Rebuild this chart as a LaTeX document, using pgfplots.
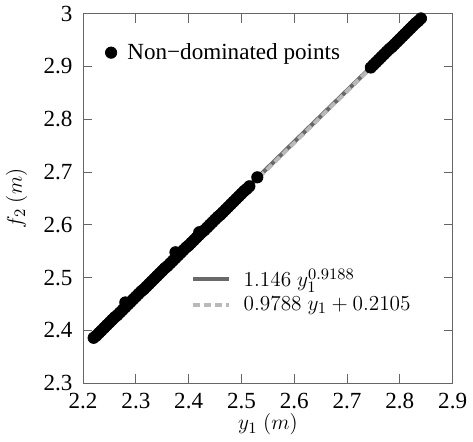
\documentclass[border=0pt]{standalone}
\usepackage{fontspec}
\setmainfont{Liberation Serif}
\usepackage{pgfplots}
\pgfplotsset{compat=1.18}
\definecolor{fitdark}{RGB}{105,105,105}
\definecolor{fitlight}{RGB}{185,185,185}
\newcommand{\bigf}{\fontsize{13}{15}\selectfont}
\begin{document}
\begin{tikzpicture}
\pgfplotsset{
  common/.style={
    width=208pt, height=208pt, scale only axis,
    xmin=2.2, xmax=2.9, ymin=2.3, ymax=3,
    /pgf/number format/assume math mode=true,
    tick label style={font=\bigf},
    yticklabel style={xshift=-2.5pt},
    xticklabel style={yshift=-2pt},
    tick align=inside, major tick length=5pt,
    xtick={2.2,2.3,...,2.9}, ytick={2.3,2.4,...,3.0},
    xticklabels={2.2,2.3,2.4,2.5,2.6,2.7,2.8,2.9},
    yticklabels={2.3,2.4,2.5,2.6,2.7,2.8,2.9,3},
    axis line style={gray!80!black, line width=0.6pt},
    tick style={gray!80!black, line width=0.6pt},
  }
}
\begin{axis}[common,
  xlabel={$y_1\ (m)$}, ylabel={$f_2\ (m)$},
  every axis x label/.style={at={(axis description cs:0.5,-0.112)}, anchor=center, font=\bigf},
  every axis y label/.style={at={(axis description cs:-0.18,0.5)}, anchor=center, rotate=90, font=\bigf},
  legend style={draw=none, fill=none, at={(0.29,0.32)}, anchor=north west, row sep=0pt,
    font=\bigf, inner sep=0pt,
    /tikz/every odd column/.append style={column sep=5pt}},
  legend cell align=left,
  legend image code/.code={\draw[#1] (0cm,0cm) -- (0.72cm,0cm);},
]
\addplot[fitdark, line width=2.4pt] coordinates {
(2.22,2.3846) (2.3,2.4635) (2.4,2.5617) (2.5,2.6596) (2.6,2.7572) (2.7,2.8545) (2.8,2.9514) (2.84,2.9900)};
\addlegendentry{$1.146\;y_1^{0.9188}$}
\addplot[fitlight, line width=2.2pt, dash pattern=on 4pt off 2.2pt] coordinates {
(2.22,2.3834) (2.84,2.9903)};
\addlegendentry{$0.9788\;y_1+0.2105$}
\end{axis}
\begin{axis}[common, axis lines=none, xtick=\empty, ytick=\empty,
  legend style={draw=none, fill=none, at={(0.045,0.94)}, anchor=north west, font=\bigf,
    /tikz/every odd column/.append style={column sep=4pt}},
]
\addplot[only marks, mark=*, mark size=3.2pt, black] coordinates {
(2.220,2.386) (2.225,2.390) (2.230,2.395) (2.235,2.400) (2.240,2.405) (2.245,2.410)
(2.250,2.415) (2.255,2.420) (2.260,2.425) (2.265,2.429) (2.270,2.434) (2.275,2.439)
(2.280,2.444) (2.280,2.453) (2.285,2.449) (2.290,2.454) (2.295,2.459) (2.300,2.464)
(2.305,2.469) (2.310,2.474) (2.315,2.478) (2.320,2.483) (2.325,2.488) (2.330,2.493)
(2.335,2.498) (2.340,2.503) (2.345,2.508) (2.350,2.513) (2.355,2.518) (2.360,2.522)
(2.365,2.527) (2.370,2.532) (2.375,2.537) (2.375,2.548) (2.380,2.542) (2.385,2.547)
(2.390,2.552) (2.395,2.557) (2.400,2.561) (2.405,2.566) (2.410,2.571) (2.415,2.576)
(2.420,2.581) (2.420,2.586) (2.425,2.586) (2.430,2.590) (2.435,2.595) (2.440,2.600)
(2.445,2.605) (2.450,2.610) (2.455,2.615) (2.460,2.619) (2.465,2.624) (2.470,2.629)
(2.475,2.634) (2.480,2.639) (2.485,2.644) (2.490,2.649) (2.495,2.654) (2.500,2.659)
(2.505,2.664) (2.510,2.668) (2.515,2.673) (2.530,2.690)
(2.745,2.898) (2.750,2.903) (2.755,2.908) (2.760,2.913) (2.765,2.918) (2.770,2.923)
(2.775,2.928) (2.780,2.933) (2.785,2.937) (2.790,2.942) (2.795,2.947) (2.800,2.952)
(2.805,2.957) (2.810,2.962) (2.815,2.967) (2.820,2.972) (2.825,2.977) (2.830,2.982)
(2.835,2.986) (2.840,2.991)};
\addlegendentry{Non\textminus dominated points}
\end{axis}
\end{tikzpicture}
\end{document}
